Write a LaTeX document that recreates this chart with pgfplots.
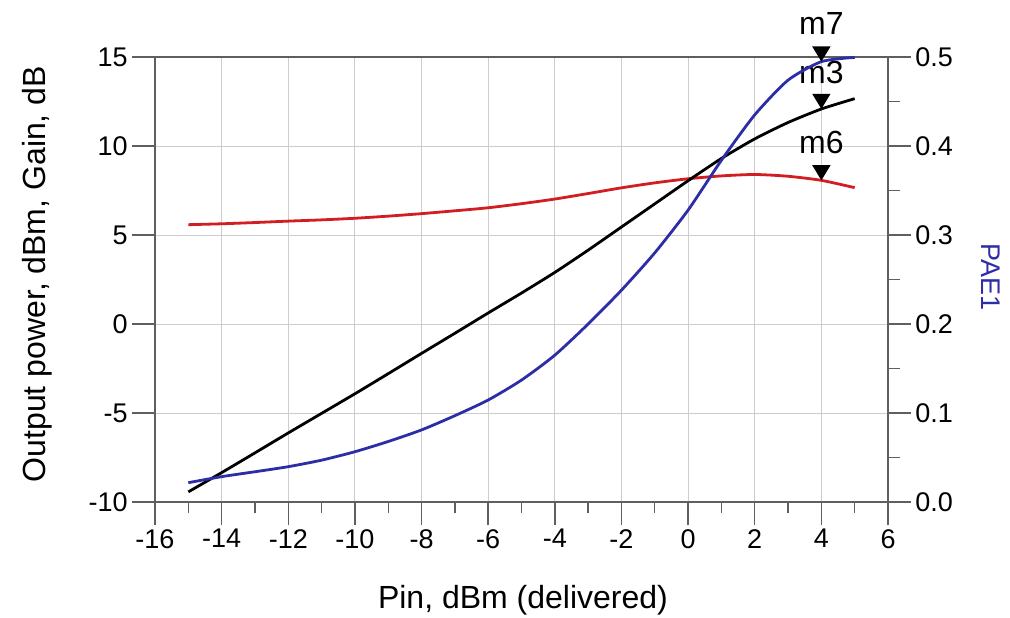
\documentclass[border=0pt]{standalone}
\usepackage{fontspec}
\setmainfont{Liberation Sans}
\usepackage{pgfplots}
\usepackage{pgfplotstable}
\pgfplotsset{compat=1.18}

\definecolor{axgray}{RGB}{95,95,95}
\definecolor{gridgray}{RGB}{205,205,205}
\definecolor{cred}{RGB}{210,30,35}
\definecolor{cblue}{RGB}{45,45,165}

\pgfdeclareplotmark{dtri}{%
  \pgfpathmoveto{\pgfpoint{0pt}{0pt}}%
  \pgfpathlineto{\pgfpoint{-4.6pt}{7.6pt}}%
  \pgfpathlineto{\pgfpoint{4.6pt}{7.6pt}}%
  \pgfpathclose
  \pgfusepathqfill}

\pgfplotstableread{
x gain pout pae
-15 5.58 -9.43 0.0217
-14 5.63 -8.35 0.0285
-13 5.70 -7.24 0.0340
-12 5.78 -6.12 0.0397
-11 5.85 -5.02 0.0470
-10 5.94 -3.92 0.0565
-9 6.06 -2.79 0.0680
-8 6.20 -1.65 0.0810
-7 6.36 -0.52 0.0970
-6 6.53 0.62 0.1146
-5 6.76 1.74 0.1370
-4 7.02 2.90 0.1650
-3 7.33 4.15 0.2000
-2 7.65 5.45 0.2380
-1 7.93 6.75 0.2800
0 8.16 8.05 0.3280
1 8.32 9.30 0.3840
2 8.40 10.40 0.4350
3 8.30 11.32 0.4740
4 8.07 12.08 0.4948
5 7.66 12.66 0.4996
}\data

\begin{document}
\begin{tikzpicture}
\begin{axis}[
  at={(0pt,0pt)}, anchor=south west,
  scale only axis, width=366.5pt, height=222.5pt,
  xmin=-16, xmax=6, ymin=-10, ymax=15,
  xtick={-16,-14,...,6}, minor xtick={-15,-13,...,5},
  ytick={-10,-5,0,5,10,15},
  xtick pos=bottom, ytick pos=left,
  tick align=outside,
  major tick length=11.5pt, minor tick length=5.5pt,
  axis line style={axgray, line width=0.7pt},
  every tick/.style={axgray, line width=0.7pt},
  every minor tick/.style={axgray, line width=0.7pt},
  xmajorgrids, ymajorgrids,
  grid style={gridgray, line width=0.5pt},
  tick label style={font=\fontsize{13.5}{16}\selectfont, inner sep=2pt},
  /pgf/number format/assume math mode=true,
  xlabel={Pin, dBm (delivered)},
  ylabel={Output power, dBm, Gain, dB},
  label style={font=\fontsize{16}{19}\selectfont},
  xlabel style={at={(axis description cs:0.502,-0.22)}, anchor=center},
  ylabel style={at={(axis description cs:-0.161,0.512)}, anchor=center},
  clip=false,
]
\addplot[cred, line width=1.4pt, smooth, tension=0.4] table[x=x, y=gain] {\data};
\addplot[black, line width=1.4pt, smooth, tension=0.4] table[x=x, y=pout] {\data};
\addplot[only marks, mark=dtri, black, nodes near coords={m3},
  every node near coord/.style={anchor=center, yshift=18pt, font=\fontsize{16}{19}\selectfont, text=black}]
  coordinates {(4,12.08)};
\addplot[only marks, mark=dtri, black, nodes near coords={m6},
  every node near coord/.style={anchor=center, yshift=19pt, font=\fontsize{16}{19}\selectfont, text=black}]
  coordinates {(4,8.07)};
\end{axis}
\begin{axis}[
  at={(0pt,0pt)}, anchor=south west,
  scale only axis, width=366.5pt, height=222.5pt,
  xmin=-16, xmax=6, ymin=0, ymax=0.5,
  hide x axis, axis y line*=right,
  ytick={0,0.1,0.2,0.3,0.4,0.5},
  minor ytick={0.05,0.15,0.25,0.35,0.45},
  tick align=outside,
  major tick length=11.5pt, minor tick length=6pt,
  axis line style={axgray, line width=0.7pt},
  every tick/.style={axgray, line width=0.7pt},
  every minor tick/.style={axgray, line width=0.7pt},
  tick label style={font=\fontsize{13.5}{16}\selectfont, inner sep=2pt},
  /pgf/number format/assume math mode=true,
  yticklabel style={/pgf/number format/.cd, fixed, fixed zerofill, precision=1},
  ylabel={PAE1},
  ylabel style={at={(axis description cs:1.14,0.506)}, anchor=center, rotate=180, text=cblue, font=\fontsize{13.5}{16}\selectfont},
  clip=false,
]
\addplot[cblue, line width=1.4pt, smooth, tension=0.4] table[x=x, y=pae] {\data};
\addplot[only marks, mark=dtri, black, nodes near coords={m7},
  every node near coord/.style={anchor=center, yshift=19.3pt, font=\fontsize{16}{19}\selectfont, text=black}]
  coordinates {(4,0.4948)};
\end{axis}
\pgfresetboundingbox
\path[use as bounding box] (-77.5pt,-57.5pt) rectangle (427.5pt,251pt);
\end{tikzpicture}
\end{document}
